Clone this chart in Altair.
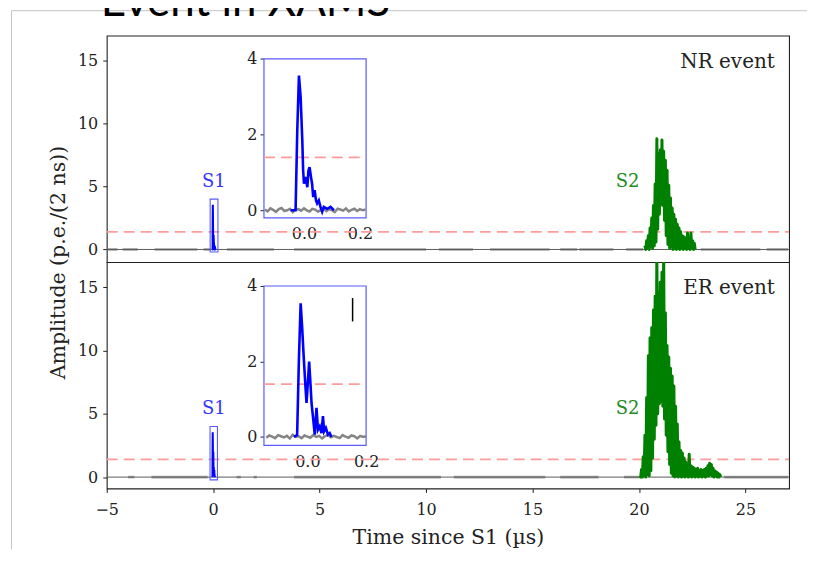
import altair as alt
import pandas as pd

# ---------------- values ----------------
X_DOMAIN = [-5.0, 27.05]
X_TICKS = [-5, 0, 5, 10, 15, 20, 25]
Y_TICKS = [0, 5, 10, 15]
Y_DOMAIN_NR = [-1.0, 17.0]
Y_DOMAIN_ER = [-0.9, 17.0]
THRESHOLD = 1.4

INSET_X_NR = [-0.143, 0.222]
INSET_X_ER = [-0.148, 0.200]
INSET_Y_NR = [-0.20, 4.0]
INSET_Y_ER = [-0.22, 4.0]
INSET_X_TICKS = [0.0, 0.2]
INSET_Y_TICKS = [0, 2, 4]

# S1 pulse (blue), time in us
S1_NR_T = [-0.048, -0.030, -0.024, -0.018, -0.012, -0.006, -0.003, 0.000, 0.006, 0.012,
           0.016, 0.020, 0.025, 0.029, 0.033, 0.038, 0.043, 0.047, 0.053, 0.059,
           0.065, 0.071, 0.083, 0.095, 0.107]
S1_NR_V = [0.0, 0.0, 2.1, 3.56, 2.99, 1.85, 1.05, 0.70, 0.88, 0.61,
           1.05, 1.14, 0.88, 0.70, 0.35, 0.53, 0.26, 0.18, 0.26, 0.09,
           -0.04, 0.09, 0.04, 0.09, 0.0]
S1_ER_T = [-0.046, -0.035, -0.029, -0.023, -0.018, -0.012, -0.006, -0.003, 0.000, 0.006,
           0.011, 0.014, 0.020, 0.025, 0.031, 0.036, 0.042, 0.048, 0.053, 0.057,
           0.063, 0.070, 0.076, 0.082]
S1_ER_V = [0.0, 0.05, 2.04, 3.54, 2.92, 2.04, 1.25, 0.9, 1.25, 2.0,
           1.34, 0.9, 0.46, 0.06, 0.77, 0.19, 0.28, 0.10, 0.55, 0.15,
           0.24, 0.06, 0.10, 0.0]

# S2 pulse (green), sampled every S2_DT us
S2_DT = 0.04
S2_NR_T0 = 20.28
S2_NR_V = [0.3, 0.0, 0.7, 0.1, 1.1, 0.0, 1.7, 0.2, 2.5, 0.1,
           3.5, 0.3, 5.2, 0.6, 8.8, 1.6, 7.6, 2.8, 7.9, 3.6,
           8.7, 3.5, 7.8, 2.3, 7.1, 1.1, 6.3, 0.4, 5.1, 0.1,
           4.1, 0.2, 3.3, 0.0, 2.8, 0.1, 2.4, 0.0, 2.0, 0.1,
           1.7, 0.0, 1.4, 0.1, 1.1, 0.0, 1.0, 0.1, 0.9, 0.0,
           1.3, 0.1, 0.8, 0.0, 1.3, 0.1, 0.7, 0.0, 0.5, 0.0]
S2_ER_T0 = 20.04
S2_ER_V = [0.1, 0.0, 0.6, 0.0, 1.6, 0.1, 3.3, 0.0, 6.3, 0.2,
           9.6, 0.1, 11.0, 0.5, 11.8, 1.5, 13.2, 3.0, 14.3, 4.1,
           18.0, 5.0, 14.6, 5.8, 15.4, 6.0, 16.2, 5.6, 18.0, 4.6,
           13.0, 3.3, 10.4, 2.0, 9.5, 1.0, 8.6, 0.3, 8.0, 0.1,
           7.2, 0.0, 5.6, 0.1, 4.2, 0.0, 2.8, 0.1, 2.1, 0.0,
           1.9, 0.1, 1.5, 0.0, 1.2, 0.1, 1.0, 0.0, 1.8, 0.1,
           0.9, 0.0, 0.8, 0.1, 0.7, 0.0, 0.6, 0.1, 0.7, 0.0,
           0.5, 0.1, 0.6, 0.0, 0.5, 0.1, 0.6, 0.0, 0.7, 0.1,
           0.9, 0.1, 1.1, 0.2, 1.0, 0.1, 0.7, 0.0, 0.5, 0.1,
           0.4, 0.0, 0.3, 0.0, 0.2, 0.0]

# grey baseline noise inside the insets, sampled every 0.01 us from -0.14
INSET_NOISE_T0 = -0.14
INSET_NOISE_DT = 0.01
INSET_NOISE_NR = [0.02, -0.03, 0.05, 0.01, -0.04, 0.03, 0.06, -0.02, 0.0, 0.04,
                  -0.05, 0.02, 0.03, -0.01, 0.05, 0.0, -0.03, 0.04, 0.02, -0.04,
                  0.01, 0.05, -0.02, 0.03, 0.0, -0.05, 0.04, 0.02, -0.01, 0.05,
                  -0.03, 0.01, 0.04, -0.02, 0.03, 0.0, 0.02]
INSET_NOISE_ER = [-0.02, 0.04, 0.01, -0.03, 0.05, 0.02, -0.01, 0.03, -0.04, 0.06,
                  0.0, 0.02, -0.03, 0.04, 0.01, -0.02, 0.05, 0.0, 0.03, -0.04,
                  0.02, 0.06, -0.01, 0.03, 0.0, -0.03, 0.05, 0.01, -0.02, 0.04,
                  0.02, -0.04, 0.03, 0.0, 0.02]

# stretches of the main panels where the grey raw trace is visible
SEG_NR_START = [-4.95, -4.25, -2.75, -0.45, 0.65, 3.8, 10.6, 13.0, 16.3, 17.2, 19.4, 22.9, 26.0]
SEG_NR_END = [-4.5, -3.55, -0.75, -0.1, 2.85, 10.0, 12.2, 15.8, 17.1, 18.8, 20.2, 25.7, 27.0]
SEG_ER_START = [-4.0, -2.9, 1.1, 1.9, 3.8, 11.3, 16.3, 19.3, 24.0]
SEG_ER_END = [-3.7, -0.26, 1.3, 2.05, 10.7, 15.6, 18.1, 20.0, 27.0]

S1_LABEL_X, S2_LABEL_X, PULSE_LABEL_Y = 0.03, 19.46, 5.0
EVENT_LABEL_X, EVENT_LABEL_Y = 26.38, 14.45
ER_MARK = [0.154, 3.06, 3.68]

# ---------------- layout (pixels) ----------------
W, H = 684, 227
INSET_PX_X = (157.6, 260.0)
INSET_PX_Y_NR = (23.3, 182.7)
INSET_PX_Y_ER = (24.0, 183.7)

SERIF = "DejaVu Serif"
INK = "#222222"
BLUE = "#0000ff"
BOX = "#5b5bff"
GREEN = "#008000"
RED = "#ff9b9b"


def ext_x(d, p0, p1):
    k = (d[1] - d[0]) / (p1 - p0)
    return [d[0] - p0 * k, d[1] + (W - p1) * k]


def ext_y(d, t, u):
    k = (d[1] - d[0]) / (u - t)
    return [d[0] - (H - u) * k, d[1] + t * k]


def panel(ydom, s1t, s1v, s2t0, s2v, noise, seg_s, seg_e, inset_x, inset_y,
          inset_py, label, bottom, marker=None):
    xs = alt.Scale(domain=X_DOMAIN, nice=False, zero=False)
    ys = alt.Scale(domain=ydom, nice=False, zero=False)
    if bottom:
        xax = alt.Axis(values=X_TICKS, title="Time since S1 (µs)", labelFlush=False,
                       tickSize=4, labelPadding=9, titlePadding=10, labelFontSize=16,
                       titleFontSize=20.5)
        yax = alt.Axis(values=Y_TICKS, title="Amplitude (p.e./(2 ns))", tickSize=4,
                       labelPadding=5, labelFontSize=16, titleFontSize=20.5,
                       titleX=-38, titleY=0, titleAngle=270, titleBaseline="bottom",
                       titleAlign="center")
    else:
        xax = None
        yax = alt.Axis(values=Y_TICKS, title=None, tickSize=4, labelPadding=5,
                       labelFontSize=16)

    def X(f="x"):
        return alt.X(f"{f}:Q", scale=xs, axis=xax)

    def Y(f="y"):
        return alt.Y(f"{f}:Q", scale=ys, axis=yax)

    segs = alt.Chart(pd.DataFrame({"x": seg_s, "x2": seg_e, "y": [0.0] * len(seg_s)})).mark_rule(
        color="#a2a2a2", strokeWidth=2.6).encode(x=X(), x2="x2:Q", y=Y())
    zero = alt.Chart(pd.DataFrame({"x": [X_DOMAIN[0]], "x2": [X_DOMAIN[1]], "y": [0.0]})).mark_rule(
        color="#5a5a5a", strokeWidth=1).encode(x=X(), x2="x2:Q", y=Y())
    thr = alt.Chart(pd.DataFrame({"x": [X_DOMAIN[0]], "x2": [X_DOMAIN[1]], "y": [THRESHOLD]})).mark_rule(
        color=RED, strokeWidth=1.8, strokeDash=[11, 6]).encode(x=X(), x2="x2:Q", y=Y())
    s2 = alt.Chart(pd.DataFrame({"x": [s2t0 + i * S2_DT for i in range(len(s2v))], "y": s2v})).mark_line(
        color=GREEN, strokeWidth=3, clip=True, strokeJoin="round").encode(x=X(), y=Y())
    s1 = alt.Chart(pd.DataFrame({"x": s1t, "y": s1v})).mark_line(
        color=BLUE, strokeWidth=2).encode(x=X(), y=Y())
    box = alt.Chart(pd.DataFrame({"x": [inset_x[0]], "x2": [inset_x[1]],
                                  "y": [inset_y[0]], "y2": [inset_y[1]]})).mark_rect(
        fillOpacity=0, stroke=BOX, strokeWidth=1.1).encode(x=X(), x2="x2:Q", y=Y(), y2="y2:Q")
    t1 = alt.Chart(pd.DataFrame({"x": [S1_LABEL_X], "y": [PULSE_LABEL_Y], "t": ["S1"]})).mark_text(
        font=SERIF, fontSize=18, color="#3636ff", align="center", baseline="alphabetic").encode(
        x=X(), y=Y(), text="t:N")
    t2 = alt.Chart(pd.DataFrame({"x": [S2_LABEL_X], "y": [PULSE_LABEL_Y], "t": ["S2"]})).mark_text(
        font=SERIF, fontSize=18, color="#1e8c1e", align="center", baseline="alphabetic").encode(
        x=X(), y=Y(), text="t:N")
    t3 = alt.Chart(pd.DataFrame({"x": [EVENT_LABEL_X], "y": [EVENT_LABEL_Y], "t": [label]})).mark_text(
        font=SERIF, fontSize=20, color=INK, align="right", baseline="alphabetic").encode(
        x=X(), y=Y(), text="t:N")
    main_layers = [segs, zero, thr, s2, s1, box, t1, t2, t3]

    if not bottom:
        one = pd.DataFrame({"a": [0]})
        vline = alt.Chart(one).mark_rule(color="#c4c4c4", strokeWidth=1).encode(
            x=alt.value(-95.5), y=alt.value(-25), y2=alt.value(515))
        hline = alt.Chart(one).mark_rule(color="#c4c4c4", strokeWidth=1).encode(
            x=alt.value(-95.5), x2=alt.value(702), y=alt.value(-25))
        title = alt.Chart(one).mark_text(text="Event in XAMS", font="Lato", fontSize=44,
                                         color="black", align="left", baseline="alphabetic").encode(
            x=alt.value(-6), y=alt.value(-20))
        main_layers += [vline, hline, title]

    main = alt.layer(*main_layers)

    # ---- inset ----
    ixs = alt.Scale(domain=ext_x(inset_x, *INSET_PX_X), nice=False, zero=False)
    iys = alt.Scale(domain=ext_y(inset_y, *inset_py), nice=False, zero=False)
    ixax = alt.Axis(orient="bottom", offset=-(H - inset_py[1]), values=INSET_X_TICKS, format=".1f",
                    ticks=False, labelPadding=8, labelFlush=False, title=None, labelFontSize=16)
    iyax = alt.Axis(orient="left", offset=-INSET_PX_X[0], values=INSET_Y_TICKS, tickSize=4,
                    labelPadding=3, title=None, labelFontSize=16)

    def IX(f="x"):
        return alt.X(f"{f}:Q", scale=ixs, axis=ixax)

    def IY(f="y"):
        return alt.Y(f"{f}:Q", scale=iys, axis=iyax)

    frame = alt.Chart(pd.DataFrame({"x": [inset_x[0]], "x2": [inset_x[1]],
                                    "y": [inset_y[0]], "y2": [inset_y[1]]})).mark_rect(
        fill="white", stroke=BOX, strokeWidth=1.2).encode(x=IX(), x2="x2:Q", y=IY(), y2="y2:Q")
    ithr = alt.Chart(pd.DataFrame({"x": [inset_x[0]], "x2": [inset_x[1]], "y": [THRESHOLD]})).mark_rule(
        color=RED, strokeWidth=1.8, strokeDash=[11, 6]).encode(x=IX(), x2="x2:Q", y=IY())
    inoise = alt.Chart(pd.DataFrame({"x": [round(INSET_NOISE_T0 + i * INSET_NOISE_DT, 4) for i in range(len(noise))],
                                     "y": noise})).mark_line(color="#858585", strokeWidth=2.5).encode(x=IX(), y=IY())
    is1 = alt.Chart(pd.DataFrame({"x": s1t, "y": s1v})).mark_line(
        color=BLUE, strokeWidth=2.6).encode(x=IX(), y=IY())
    ilayers = [frame, ithr, inoise, is1]
    if marker is not None:
        ilayers.append(alt.Chart(pd.DataFrame({"x": [marker[0]], "y": [marker[1]], "y2": [marker[2]]})).mark_rule(
            color="black", strokeWidth=1.5).encode(x=IX(), y=IY(), y2="y2:Q"))
    inset = alt.layer(*ilayers)

    return alt.layer(main, inset).resolve_scale(x="independent", y="independent").properties(
        width=W, height=H)


top = panel(Y_DOMAIN_NR, S1_NR_T, S1_NR_V, S2_NR_T0, S2_NR_V, INSET_NOISE_NR, SEG_NR_START, SEG_NR_END,
            INSET_X_NR, INSET_Y_NR, INSET_PX_Y_NR, "NR event", False)
bot = panel(Y_DOMAIN_ER, S1_ER_T, S1_ER_V, S2_ER_T0, S2_ER_V, INSET_NOISE_ER, SEG_ER_START, SEG_ER_END,
            INSET_X_ER, INSET_Y_ER, INSET_PX_Y_ER, "ER event", True, marker=ER_MARK)

chart = alt.vconcat(top, bot, spacing=0, bounds="flush").properties(
    padding={"left": 2, "top": -29, "right": 0, "bottom": 0}
).configure_view(stroke=INK, strokeWidth=1.1).configure_axis(
    grid=False, domain=False, labelFont=SERIF, titleFont=SERIF, labelColor=INK, titleColor=INK,
    tickColor=INK, titleFontWeight="normal")

chart.save("out.html", embed_options={"renderer": "svg", "actions": False})
